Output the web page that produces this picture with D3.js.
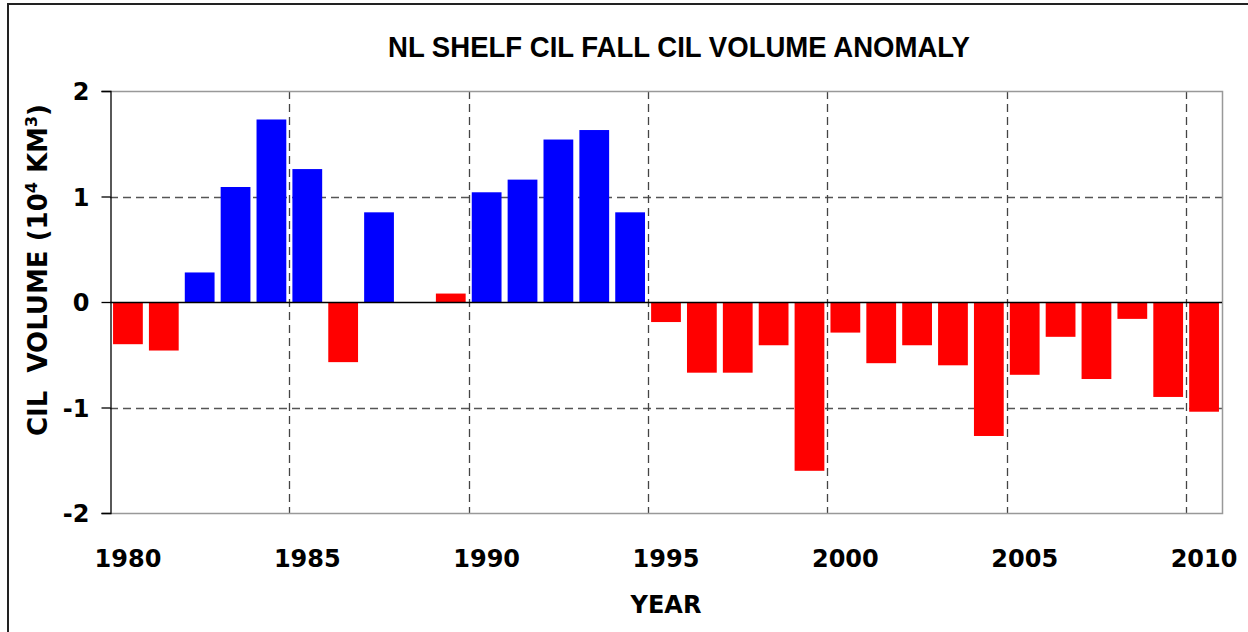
<!DOCTYPE html>
<html>
<head>
<meta charset="utf-8">
<script src="https://cdn.jsdelivr.net/npm/d3@7"></script>
<style>
  html, body { margin: 0; padding: 0; background: #fff; }
  svg { display: block; }
</style>
</head>
<body>
<svg id="chart" width="1248" height="632"></svg>
<script>
// ---- data ----
const years = [1980,1981,1982,1983,1984,1985,1986,1987,1988,1989,1990,1991,1992,1993,1994,1995,
               1996,1997,1998,1999,2000,2001,2002,2003,2004,2005,2006,2007,2008,2009,2010];
const values = [-0.40,-0.46,0.28,1.09,1.73,1.26,-0.57,0.85,null,0.08,1.04,1.16,1.54,1.63,0.85,-0.19,
                -0.67,-0.67,-0.41,-1.60,-0.29,-0.58,-0.41,-0.60,-1.27,-0.69,-0.33,-0.73,-0.16,-0.90,-1.04];
// bar colour group as shown in the original ("pos" = blue, "neg" = red)
const groups = ["neg","neg","pos","pos","pos","pos","neg","pos","neg","neg","pos","pos","pos","pos","pos","neg",
                "neg","neg","neg","neg","neg","neg","neg","neg","neg","neg","neg","neg","neg","neg","neg"];
const yTicks = [-2,-1,0,1,2];
const xLabelYears = [1980,1985,1990,1995,2000,2005,2010];
const gridYears = [1985,1990,1995,2000,2005,2010];
const title = "NL SHELF CIL FALL CIL VOLUME ANOMALY";

// ---- layout ----
const svg = d3.select("#chart");
const L = 110, R = 1222, T = 91, B = 513;
const colors = { pos: "#0000ff", neg: "#ff0000" };

const x = d3.scaleBand().domain(years).range([L, R]).paddingInner(0.17).paddingOuter(0.085);
const y = d3.scaleLinear().domain([-2, 2]).range([B, T]);

// outer frame
svg.append("rect").attr("x", 8).attr("y", 4).attr("width", 1300).attr("height", 700)
  .attr("fill", "#fff").attr("stroke", "#222").attr("stroke-width", 2);

// title
svg.append("text").attr("x", 679).attr("y", 57).attr("text-anchor", "middle")
  .attr("font-family", "'Liberation Sans Narrow','Arial Narrow','Liberation Sans',Arial,sans-serif")
  .attr("font-weight", "bold").attr("font-size", 30)
  .attr("textLength", 582).attr("lengthAdjust", "spacingAndGlyphs")
  .text(title);

// horizontal gridlines
svg.append("g").selectAll("line").data(yTicks.filter(d => d !== 0 && d !== -2 && d !== 2)).join("line")
  .attr("x1", L).attr("x2", R).attr("y1", d => Math.round(y(d)) + 0.5).attr("y2", d => Math.round(y(d)) + 0.5)
  .attr("stroke", "#555").attr("stroke-width", 1.3).attr("stroke-dasharray", "8,5");

// vertical gridlines (at left edge of every 5th band)
const step = x.step();
const gx = d => Math.round(x(d) - step * x.paddingInner() / 2) + 0.5;
svg.append("g").selectAll("line").data(gridYears).join("line")
  .attr("x1", gx).attr("x2", gx).attr("y1", T).attr("y2", B)
  .attr("stroke", "#444").attr("stroke-width", 1.3).attr("stroke-dasharray", "8,5");

// plot border (top, right, bottom) in gray
svg.append("path")
  .attr("d", `M${L},${T + 0.5}H${R + 0.5}V${B + 0.5}H${L}`)
  .attr("fill", "none").attr("stroke", "#999").attr("stroke-width", 1.5);

// bars
svg.append("g").selectAll("rect").data(years.map((yr, i) => ({ yr, v: values[i], g: groups[i] })).filter(d => d.v !== null))
  .join("rect")
  .attr("x", d => x(d.yr))
  .attr("width", x.bandwidth())
  .attr("y", d => y(Math.max(0, d.v)))
  .attr("height", d => Math.abs(y(d.v) - y(0)))
  .attr("fill", d => colors[d.g]);

// zero line
svg.append("line").attr("x1", L).attr("x2", R).attr("y1", Math.round(y(0)) + 0.5).attr("y2", Math.round(y(0)) + 0.5)
  .attr("stroke", "#000").attr("stroke-width", 1.3);

// y axis
const yAxis = d3.axisLeft(y).tickValues(yTicks).tickSize(9).tickPadding(12).tickFormat(d3.format("d"));
const ya = svg.append("g").attr("transform", `translate(${L + 0.5},0)`).call(yAxis);
ya.select(".domain").attr("stroke", "#000").attr("stroke-width", 1.3);
ya.selectAll(".tick line").attr("stroke", "#000").attr("stroke-width", 1.3);
ya.selectAll(".tick text").attr("font-family", "'DejaVu Sans',Verdana,sans-serif")
  .attr("font-weight", "bold").attr("font-size", 24).attr("fill", "#000").attr("dy", "0.36em")
  .text(d => d < 0 ? "-" + Math.abs(d) : d);

// x axis labels
const xAxis = d3.axisBottom(x).tickValues(xLabelYears).tickSize(0).tickPadding(0);
const xa = svg.append("g").attr("transform", `translate(0,${B})`).call(xAxis);
xa.select(".domain").remove();
xa.selectAll(".tick text").attr("font-family", "'DejaVu Sans',Verdana,sans-serif")
  .attr("font-weight", "bold").attr("font-size", 24).attr("fill", "#000")
  .attr("dy", 0).attr("y", 54);

// axis titles
svg.append("text").attr("x", (L + R) / 2).attr("y", 613).attr("text-anchor", "middle")
  .attr("font-family", "'DejaVu Sans',Verdana,sans-serif").attr("font-weight", "bold").attr("font-size", 24)
  .text("YEAR");

const yl = svg.append("text").attr("transform", "translate(47,270) rotate(-90)").attr("text-anchor", "middle")
  .attr("font-family", "'DejaVu Sans',Verdana,sans-serif").attr("font-weight", "bold").attr("font-size", 26)
  .attr("xml:space", "preserve");
yl.append("tspan").text("CIL\u00a0 VOLUME (10");
yl.append("tspan").attr("font-size", 16).attr("dy", -10).text("4");
yl.append("tspan").attr("dy", 10).text(" KM");
yl.append("tspan").attr("font-size", 16).attr("dy", -10).text("3");
yl.append("tspan").attr("dy", 10).text(")");
</script>
</body>
</html>
